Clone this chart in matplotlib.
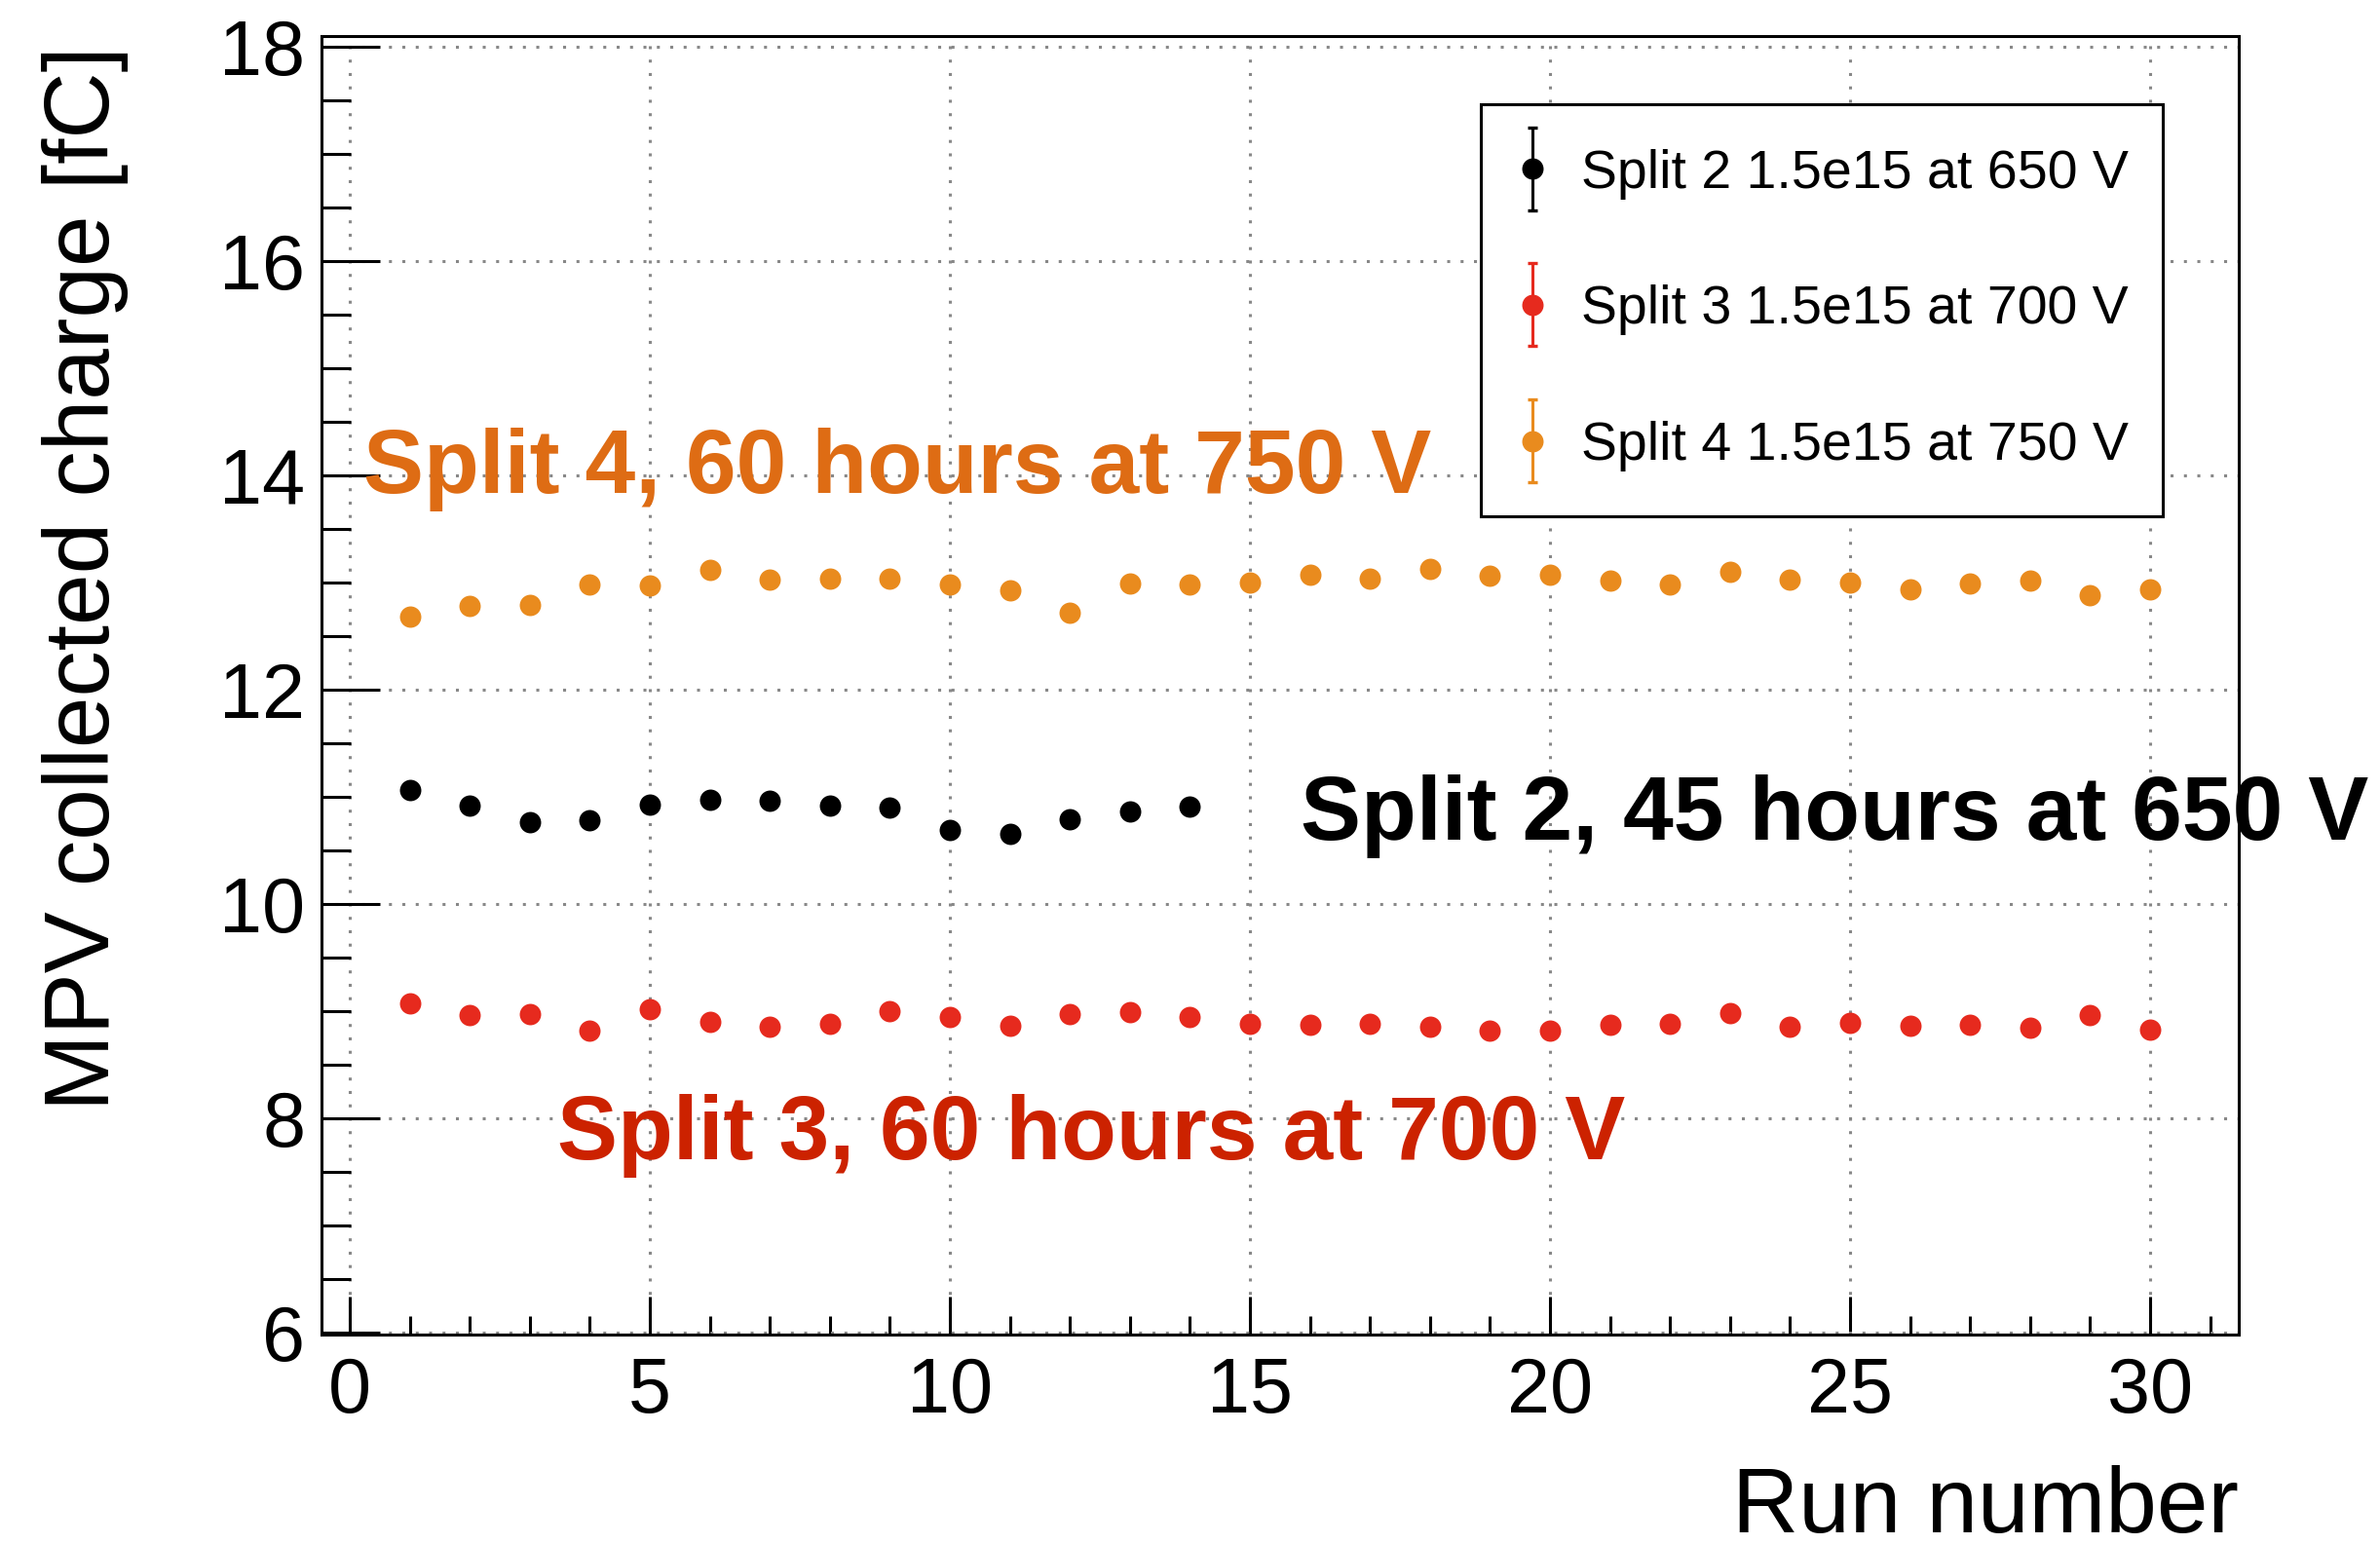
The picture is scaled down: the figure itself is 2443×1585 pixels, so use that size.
import numpy as np
import matplotlib
matplotlib.use("Agg")
import matplotlib.pyplot as plt
from matplotlib.ticker import MultipleLocator
from matplotlib.container import ErrorbarContainer
from matplotlib.legend_handler import HandlerErrorbar

plt.rcParams['font.family'] = ['Liberation Sans', 'DejaVu Sans']

# ---------------- data ----------------
runs_split2 = list(range(1, 15))
mpv_split2 = [11.06, 10.92, 10.76, 10.78, 10.93, 10.97, 10.96, 10.92, 10.90,
              10.69, 10.65, 10.79, 10.86, 10.91]

runs_split3 = list(range(1, 31))
mpv_split3 = [9.07, 8.96, 8.97, 8.82, 9.02, 8.90, 8.85, 8.88, 9.00, 8.94,
              8.86, 8.97, 8.99, 8.94, 8.88, 8.87, 8.88, 8.85, 8.82, 8.82,
              8.87, 8.88, 8.98, 8.85, 8.89, 8.86, 8.87, 8.84, 8.96, 8.83]

runs_split4 = list(range(1, 31))
mpv_split4 = [12.68, 12.78, 12.79, 12.98, 12.97, 13.12, 13.03, 13.04, 13.04, 12.98,
              12.93, 12.72, 12.99, 12.98, 13.00, 13.07, 13.04, 13.13, 13.06, 13.07,
              13.02, 12.98, 13.10, 13.03, 13.00, 12.94, 12.99, 13.02, 12.88, 12.94]

legend_labels = ["Split 2 1.5e15 at 650 V",
                 "Split 3 1.5e15 at 700 V",
                 "Split 4 1.5e15 at 750 V"]
annotation_texts = ["Split 2, 45 hours at 650 V",
                    "Split 3, 60 hours at 700 V",
                    "Split 4, 60 hours at 750 V"]
x_label = "Run number"
y_label = "MPV collected charge [fC]"

# ---------------- style ----------------
c_black = "#000000"
c_red = "#E62A1E"
c_orange = "#E98B1E"
c_text_red = "#CC2200"
c_text_orange = "#DE6C14"

W, H = 2443, 1585
fig = plt.figure(figsize=(W / 100, H / 100), dpi=100)
ax = fig.add_axes([330 / W, 1 - 1370 / H, (2297.5 - 330) / W, (1370 - 37) / H])

ax.set_xlim(-0.47, 31.47)
ax.set_ylim(5.98, 18.1)

ms = 15.8
series = [(runs_split2, mpv_split2, c_black),
          (runs_split3, mpv_split3, c_red),
          (runs_split4, mpv_split4, c_orange)]
for xs, ys, col in series:
    ax.plot(xs, ys, linestyle='none', marker='o', ms=ms, mew=0, color=col, zorder=3)

# legend proxies (error-bar style entries)
handles = []
for (xs, ys, col), lab in zip(series, legend_labels):
    h = ax.errorbar([np.nan], [np.nan], yerr=[1.0], fmt='o', color=col, ms=ms - 1.0,
                    mec=col, elinewidth=2.2, capsize=3.6, capthick=2.4, label=lab)
    handles.append(h)

leg = ax.legend(handles=handles, labels=legend_labels,
                loc='upper left',
                bbox_to_anchor=(1520 / W, 1 - 528 / H, 700 / W, (528 - 107) / H),
                bbox_transform=fig.transFigure, mode='expand',
                fontsize=40, frameon=True, fancybox=False, framealpha=1,
                edgecolor='black', borderpad=0.82, labelspacing=1.58,
                handlelength=0.26, handletextpad=0.77, borderaxespad=0,
                numpoints=1,
                handler_map={ErrorbarContainer: HandlerErrorbar(yerr_size=0.765)})
leg.get_frame().set_linewidth(2.2)
leg.set_zorder(5)

# axes styling
for sp in ax.spines.values():
    sp.set_linewidth(2.2)
ax.xaxis.set_major_locator(MultipleLocator(5))
ax.xaxis.set_minor_locator(MultipleLocator(1))
ax.yaxis.set_major_locator(MultipleLocator(2))
ax.yaxis.set_minor_locator(MultipleLocator(0.5))
ax.tick_params(axis='both', which='both', direction='in', top=False, right=False,
               width=2.2, labelsize=57)
ax.tick_params(axis='y', which='major', length=43, pad=12)
ax.tick_params(axis='y', which='minor', length=21.6)
ax.tick_params(axis='x', which='major', length=28, pad=16)
ax.tick_params(axis='x', which='minor', length=13.7)
ax.grid(True, which='major', color='#888888', linestyle=(0, (1, 3.5)), linewidth=2.2)

# axis titles
ax.set_xlabel(x_label, fontsize=68)
ax.xaxis.set_label_coords(1.0, -0.1525)
ax.xaxis.label.set_ha('right')
ax.xaxis.label.set_va('baseline')
ax.set_ylabel(y_label, fontsize=68)
ax.yaxis.set_label_coords(-0.1108, 0.9925)
ax.yaxis.label.set_ha('right')
ax.yaxis.label.set_va('baseline')

# annotations
ax.text(15.85, 10.60, annotation_texts[0], fontsize=67, fontweight='bold',
        color=c_black, ha='left', va='baseline', clip_on=False, zorder=4)
ax.text(3.46, 7.615, annotation_texts[1], fontsize=67, fontweight='bold',
        color=c_text_red, ha='left', va='baseline', clip_on=False, zorder=4)
ax.text(0.23, 13.84, annotation_texts[2], fontsize=67, fontweight='bold',
        color=c_text_orange, ha='left', va='baseline', clip_on=False, zorder=4)

fig.savefig("out.png", dpi=100)
